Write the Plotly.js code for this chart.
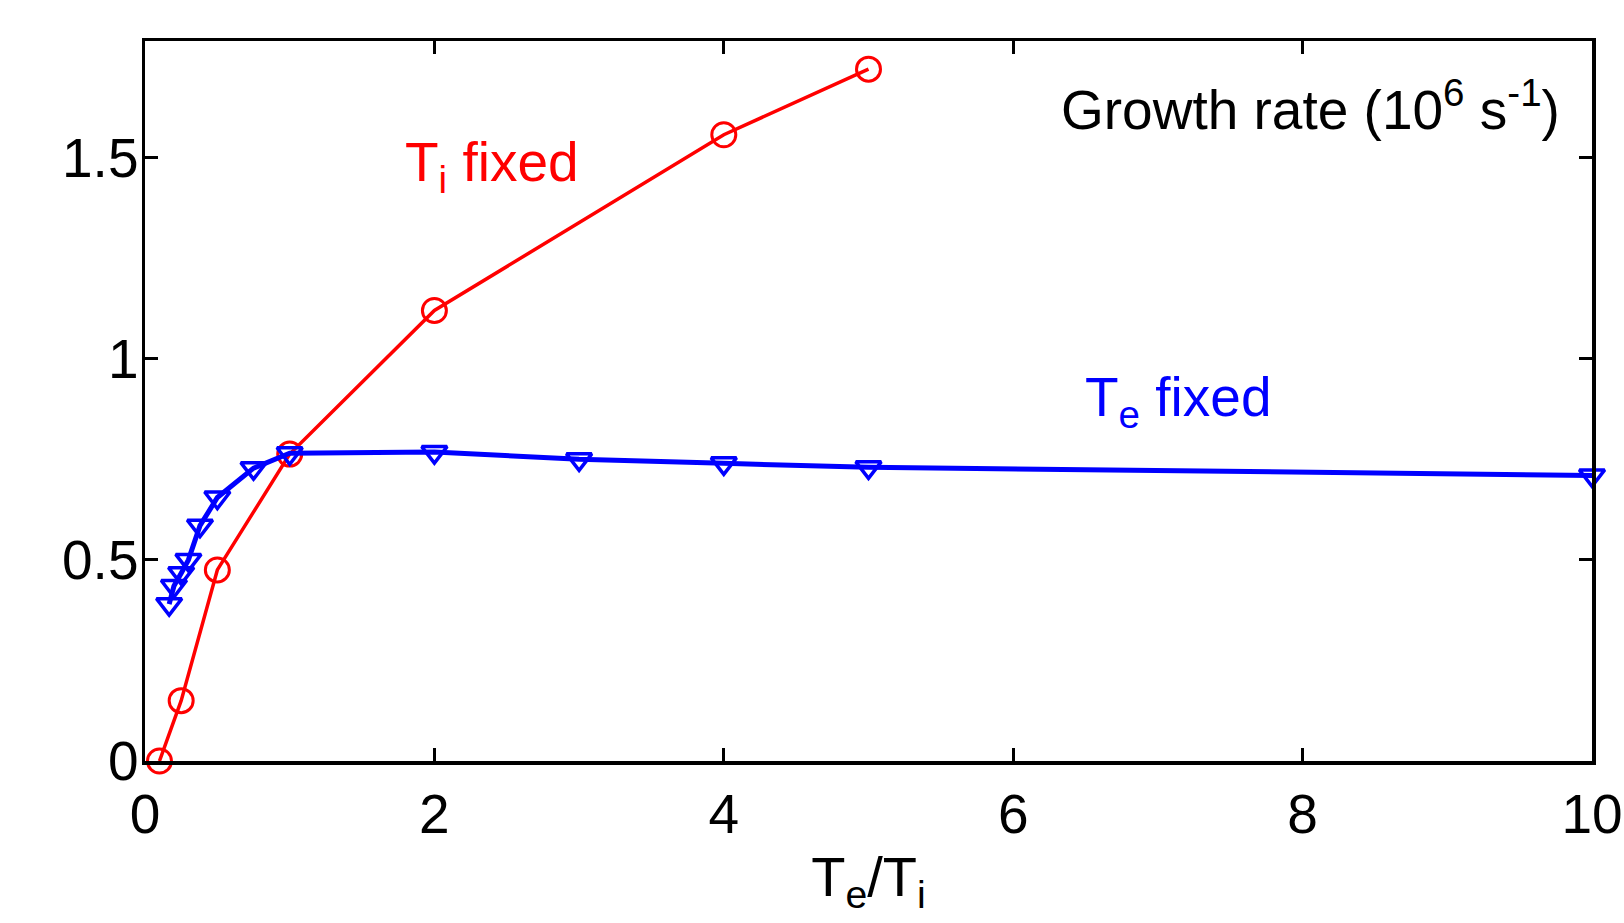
<!DOCTYPE html>
<html>
<head>
<meta charset="utf-8">
<script src="https://cdn.plot.ly/plotly-3.0.1.min.js"></script>
<style>html,body{margin:0;padding:0;background:#fff;}#chart{width:1624px;height:923px;}</style>
</head>
<body>
<div id="chart"></div>
<script>
// Ti fixed series (red)
const tiFixedX = [0.1, 0.25, 0.5, 1, 2, 4, 5];
const tiFixedY = [0.0, 0.15, 0.475, 0.763, 1.12, 1.557, 1.72];
// Te fixed series (blue)
const teFixedX = [0.167, 0.2, 0.25, 0.3, 0.38, 0.5, 0.75, 1, 2, 3, 4, 5, 10];
const teFixedY = [0.39, 0.435, 0.467, 0.50, 0.585, 0.655, 0.728, 0.765, 0.768, 0.75, 0.74, 0.73, 0.71];
// tick labels
const xTickVals = [0, 2, 4, 6, 8, 10];
const xTickText = ['0', '2', '4', '6', '8', '10'];
const yTickVals = [0, 0.5, 1, 1.5];
const yTickText = ['0', '0.5', '1', '1.5'];

const font = 'Liberation Sans, Arial, sans-serif';

const traces = [
  {
    x: tiFixedX, y: tiFixedY, type: 'scatter', mode: 'lines+markers',
    line: {color: '#ff0000', width: 3.5},
    marker: {symbol: 'circle-open', size: 24, color: '#ff0000', line: {width: 3, color: '#ff0000'}},
    cliponaxis: false, showlegend: false
  },
  {
    x: teFixedX, y: teFixedY, type: 'scatter', mode: 'lines+markers',
    line: {color: '#0000ff', width: 5},
    marker: {symbol: 'triangle-down-open', size: 22, color: '#0000ff', line: {width: 3.5, color: '#0000ff'}},
    cliponaxis: false, showlegend: false
  }
];

const axisCommon = {
  showline: true, linecolor: '#000', linewidth: 3.5, mirror: 'ticks',
  ticks: 'inside', ticklen: 13, tickwidth: 3, tickcolor: '#000',
  showgrid: false, zeroline: false,
  tickfont: {family: font, size: 55, color: '#000'}
};

const layout = {
  width: 1624, height: 923,
  margin: {l: 145, r: 32, t: 41, b: 162},
  paper_bgcolor: '#fff', plot_bgcolor: '#fff',
  xaxis: Object.assign({}, axisCommon, {
    range: [0, 10], tickvals: xTickVals, ticktext: xTickText,
    ticklabelstandoff: 2,
    title: {text: 'T<sub>e</sub>/T<sub>i</sub>', font: {family: font, size: 56, color: '#000'}, standoff: 14}
  }),
  yaxis: Object.assign({}, axisCommon, {
    range: [0, 1.79], tickvals: yTickVals, ticktext: yTickText,
    ticklabelstandoff: -8
  }),
  annotations: [
    {x: 1, xref: 'paper', y: 0.91, yref: 'paper', xanchor: 'right', yanchor: 'middle', xshift: -30,
     text: 'Growth rate (10<sup>6</sup> s<sup>-1</sup>)', showarrow: false,
     font: {family: font, size: 55, color: '#000'}},
    {x: 2.4, y: 1.48, xref: 'x', yref: 'y', xanchor: 'center', yanchor: 'middle',
     text: 'T<sub>i</sub> fixed', showarrow: false,
     font: {family: font, size: 55, color: '#ff0000'}},
    {x: 7.14, y: 0.895, xref: 'x', yref: 'y', xanchor: 'center', yanchor: 'middle',
     text: 'T<sub>e</sub> fixed', showarrow: false,
     font: {family: font, size: 55, color: '#0000ff'}}
  ]
};

Plotly.newPlot('chart', traces, layout, {displayModeBar: false, staticPlot: true});
</script>
</body>
</html>
